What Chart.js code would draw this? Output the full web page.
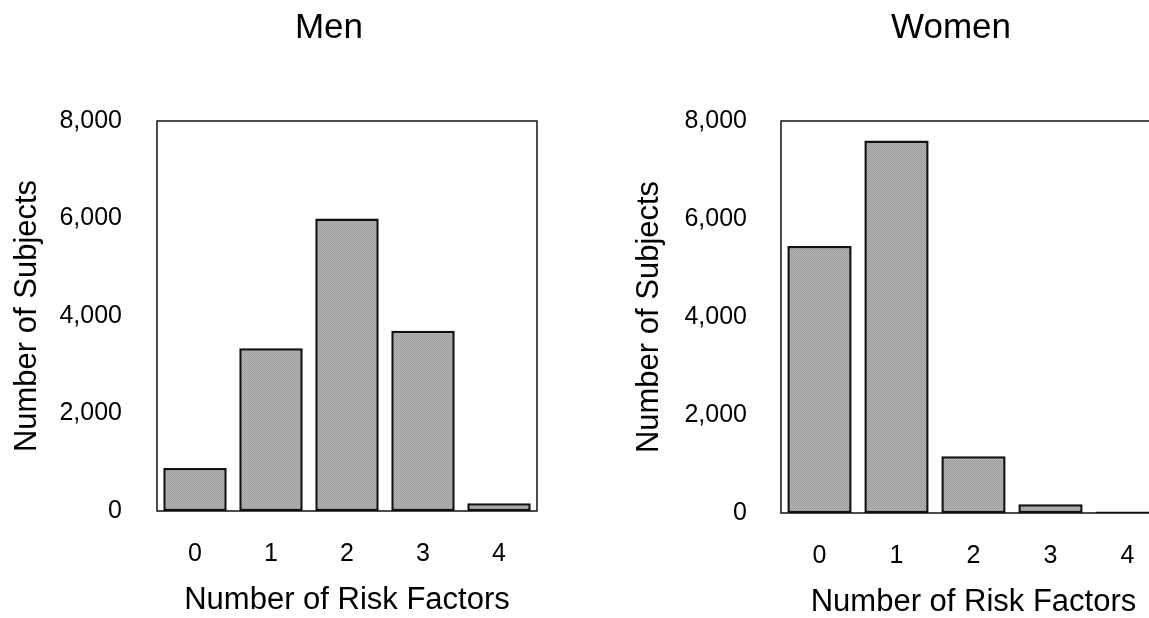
<!DOCTYPE html>
<html>
<head>
<meta charset="utf-8">
<title>Number of Risk Factors - Men / Women</title>
<script src="https://cdn.jsdelivr.net/npm/chart.js@4/dist/chart.umd.min.js"></script>
<style>
  html, body { margin: 0; padding: 0; background: #fff; overflow: hidden; }
  .panel { position: absolute; top: 0; }
  #menPanel { left: 0; }
  #womenPanel { left: 622px; }
</style>
</head>
<body>
<div class="panel" id="menPanel"><canvas id="menChart" width="658" height="618"></canvas></div>
<div class="panel" id="womenPanel"><canvas id="womenChart" width="658" height="618"></canvas></div>

<script>
// Data
const riskFactors = ["0", "1", "2", "3", "4"];
const menCounts = [880, 3340, 6000, 3700, 160];
const womenCounts = [5450, 7600, 1160, 180, 30];
const yTicks = [0, 2000, 4000, 6000, 8000];

const FONT = "'Liberation Sans', Arial, Helvetica, sans-serif";

/**
 * Draws the black box around the plot area
 */
const framePlugin = {
  id: "frame",
  afterDatasetsDraw(chart) {
    const { ctx, chartArea } = chart;
    ctx.save();
    ctx.strokeStyle = "#111";
    ctx.lineWidth = 1.5;
    ctx.strokeRect(
      chartArea.left,
      chartArea.top,
      chartArea.right - chartArea.left,
      chartArea.bottom - chartArea.top
    );
    ctx.restore();
  },
};

const RiskCharts = {
  menChart: null,
  womenChart: null,

  init() {
    this.menChart = this.createChart("menChart", "Men", menCounts, {
      yWidth: 157,
      tickPadding: 35,
      rightSpace: 121,
      bottomPad: 2,
    });
    this.womenChart = this.createChart("womenChart", "Women", womenCounts, {
      yWidth: 159,
      tickPadding: 34,
      rightSpace: 114,
      bottomPad: 0,
    });
  },

  /**
   * Halftone-ish gray fill like the printed figure
   */
  makeFill(ctx) {
    const c = document.createElement("canvas");
    c.width = 2;
    c.height = 2;
    const p = c.getContext("2d");
    p.fillStyle = "#b5b5b5";
    p.fillRect(0, 0, 2, 2);
    p.fillStyle = "#9c9c9c";
    p.fillRect(0, 0, 1, 1);
    p.fillRect(1, 1, 1, 1);
    return ctx.createPattern(c, "repeat");
  },

  createChart(id, title, values, layout) {
    const canvas = document.getElementById(id);
    const ctx = canvas.getContext("2d");

    return new Chart(canvas, {
      type: "bar",
      data: {
        labels: riskFactors,
        datasets: [
          {
            data: values,
            backgroundColor: this.makeFill(ctx),
            borderColor: "#111",
            borderWidth: 2.5,
            borderSkipped: false,
            categoryPercentage: 1,
            barPercentage: 0.835,
          },
        ],
      },
      options: {
        responsive: false,
        animation: false,
        devicePixelRatio: 1,
        layout: { padding: { top: 0, left: 0, right: 0, bottom: layout.bottomPad } },
        plugins: {
          legend: { display: false },
          tooltip: { enabled: false },
          title: {
            display: true,
            text: title,
            color: "#000",
            font: { family: FONT, size: 35, weight: "normal" },
            padding: { top: 7, bottom: 72 },
          },
        },
        scales: {
          x: {
            grid: { display: false, drawTicks: false },
            border: { display: false },
            ticks: {
              color: "#000",
              padding: 28,
              font: { family: FONT, size: 25 },
            },
            title: {
              display: true,
              text: "Number of Risk Factors",
              color: "#000",
              font: { family: FONT, size: 31, lineHeight: 1 },
              padding: { top: 0, bottom: 0 },
            },
            // fixed height so the tick labels and the title land where they are in the figure
            afterFit: (scale) => {
              scale.height = 105;
            },
          },
          y: {
            min: 0,
            max: 8000,
            afterBuildTicks: (scale) => {
              scale.ticks = yTicks.map((v) => ({ value: v }));
            },
            grid: { display: false, drawTicks: false },
            border: { display: false },
            ticks: {
              color: "#000",
              padding: layout.tickPadding,
              font: { family: FONT, size: 25 },
              callback: (value) => Number(value).toLocaleString("en-US"),
            },
            title: {
              display: true,
              text: "Number of Subjects",
              color: "#000",
              font: { family: FONT, size: 31 },
              padding: { top: 9, bottom: 13 },
            },
            afterFit: (scale) => {
              scale.width = layout.yWidth;
            },
          },
          // empty axis on the right, only reserves space so the title sits where it should
          yRight: {
            position: "right",
            display: true,
            grid: { display: false, drawTicks: false },
            border: { display: false },
            ticks: { display: false },
            afterFit: (scale) => {
              scale.width = layout.rightSpace;
            },
          },
        },
      },
      plugins: [framePlugin],
    });
  },
};

RiskCharts.init();
</script>
</body>
</html>
